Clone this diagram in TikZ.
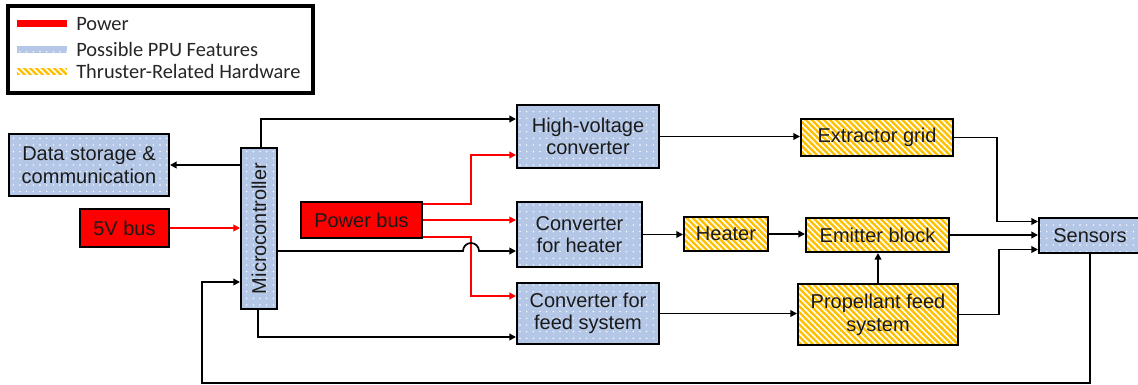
\documentclass[tikz,border=0pt]{standalone}
\usepackage{fontspec}
\setmainfont{Liberation Sans}
\newfontfamily\legfont{Carlito}
\usetikzlibrary{arrows.meta,patterns.meta,calc}
\definecolor{ppublue}{HTML}{B4C7E7}
\definecolor{thryel}{HTML}{FFC000}
\definecolor{pwred}{HTML}{FF0000}
\definecolor{txt}{HTML}{1A1A1A}
\definecolor{legtxt}{HTML}{262626}
\tikzset{
  px/.style 2 args={minimum width=#1*0.75pt, minimum height=#2*0.75pt},
  ppufill/.style={preaction={fill=ppublue}, pattern={Dots[distance=5pt,radius=0.6pt]}, pattern color=white},
  thrfill/.style={preaction={fill=thryel}, pattern={Lines[angle=-45,distance=3.2pt,line width=1.2pt]}, pattern color=white},
  base/.style={draw=black, line width=1.5pt, inner sep=0pt, align=center, text=txt, font=\fontsize{15}{17}\selectfont},
  ppu/.style={base, ppufill},
  thr/.style={base, thrfill},
  pwr/.style={base, fill=pwred},
  arr/.style={line width=1.3pt, -{Triangle[length=5pt,width=5pt]}},
  pw/.style={arr, draw=pwred},
  legtext/.style={anchor=base west, inner sep=0pt, text=legtxt, font=\legfont\fontsize{15.3}{17}\selectfont},
  legbar/.style={inner sep=0pt, px={50}{7}},
}
\begin{document}
\begin{tikzpicture}[x=0.75pt,y=-0.75pt]
\useasboundingbox[fill=white] (0,0) rectangle (1138,385);
% legend
\node[draw=black, line width=2.5pt, px={305}{87}, inner sep=0pt] (legend) at (160.5,49.5) {};
\node[legbar, fill=pwred] (lpow) at (42,24) {};
\node[legbar, ppufill] (lppu) at (42,50) {};
\node[legbar, thrfill] (lthr) at (42,71.5) {};
\node[legtext] (tpow) at (76,31) {Power};
\node[legtext] (tppu) at (76,56.5) {Possible PPU Features};
\node[legtext] (tthr) at (76,78.5) {Thruster-Related Hardware};
% boxes
\node[ppu, px={160}{62}] (data) at (89,165) {Data storage \&\\communication};
\node[pwr, px={89}{38}] (v5) at (124.5,228) {5V bus};
\node[ppu, px={36}{161}] (mc) at (259,228.5) {\rotatebox{90}{Microcontroller}};
\node[pwr, px={121}{36}] (pbus) at (361.5,220) {Power bus};
\node[ppu, px={142}{63}] (hv) at (588,136.5) {High-voltage\\converter};
\node[ppu, px={125}{65}] (ch) at (579.5,234.5) {Converter\\for heater};
\node[ppu, px={142}{61}] (cf) at (588,313.5) {Converter for\\feed system};
\node[thr, px={84}{34}] (heater) at (726,234) {Heater};
\node[thr, px={152}{37}] (eg) at (877,137.5) {Extractor grid};
\node[thr, px={143}{34}] (eb) at (877.5,235) {Emitter block};
\node[thr, px={160}{61}] (pf) at (878,314.5) {Propellant feed\\system};
\node[ppu, px={102}{35}] (sens) at (1090,235.5) {Sensors};
% port coordinates
\coordinate (hvA) at ($(hv.west)+(0,-17.5)$);
\coordinate (hvB) at ($(hv.west)+(0,18.5)$);
\coordinate (cfA) at ($(cf.west)+(0,-17.5)$);
\coordinate (cfB) at ($(cf.west)+(0,23.5)$);
\coordinate (chB) at ($(ch.west)+(0,16.5)$);
\coordinate (sA) at ($(sens.west)+(0,-14)$);
\coordinate (sC) at ($(sens.west)+(0,14)$);
\coordinate (mcFb) at ($(mc.west)+(0,53.5)$);
\coordinate (jx) at (471,0);
\coordinate (fbY) at (0,383);
\coordinate (fbX) at (202,0);
\coordinate (egX) at (997,0);
\coordinate (pfX) at (999,0);
% power connectors
\draw[pw] (v5.east) -- (v5.east -| mc.west);
\draw[pw] ($(pbus.north east)+(0,3)$) -| (jx |- hvB) -- (hvB);
\draw[pw] (pbus.east) -- (pbus.east -| ch.west);
\draw[pw] ($(pbus.south east)+(0,-2)$) -| (jx |- cfA) -- (cfA);
% signal connectors
\draw[arr] (data.east -| mc.west) -- (data.east);
\draw[arr] ($(mc.north)+(2,0)$) |- (hvA);
\draw[arr] (mc.east |- chB) -- ($(jx |- chB)+(-8,0)$) arc[start angle=180,end angle=0,radius=6pt] -- (chB);
\draw[arr] ($(mc.south)+(-1,0)$) |- (cfB);
\draw[arr] (hv.east) -- (hv.east -| eg.west);
\draw[arr] (ch.east) -- (ch.east -| heater.west);
\draw[arr] (heater.east) -- (heater.east -| eb.west);
\draw[arr] (cf.east) -- (cf.east -| pf.west);
\draw[arr] (pf.north) -- (pf.north |- eb.south);
\draw[arr] (eg.east) -| (egX |- sA) -- (sA);
\draw[arr] (eb.east) -- (eb.east -| sens.west);
\draw[arr] (pf.east) -| (pfX |- sC) -- (sC);
\draw[arr] (sens.south) |- (fbX |- fbY) |- (mcFb);
\end{tikzpicture}
\end{document}
